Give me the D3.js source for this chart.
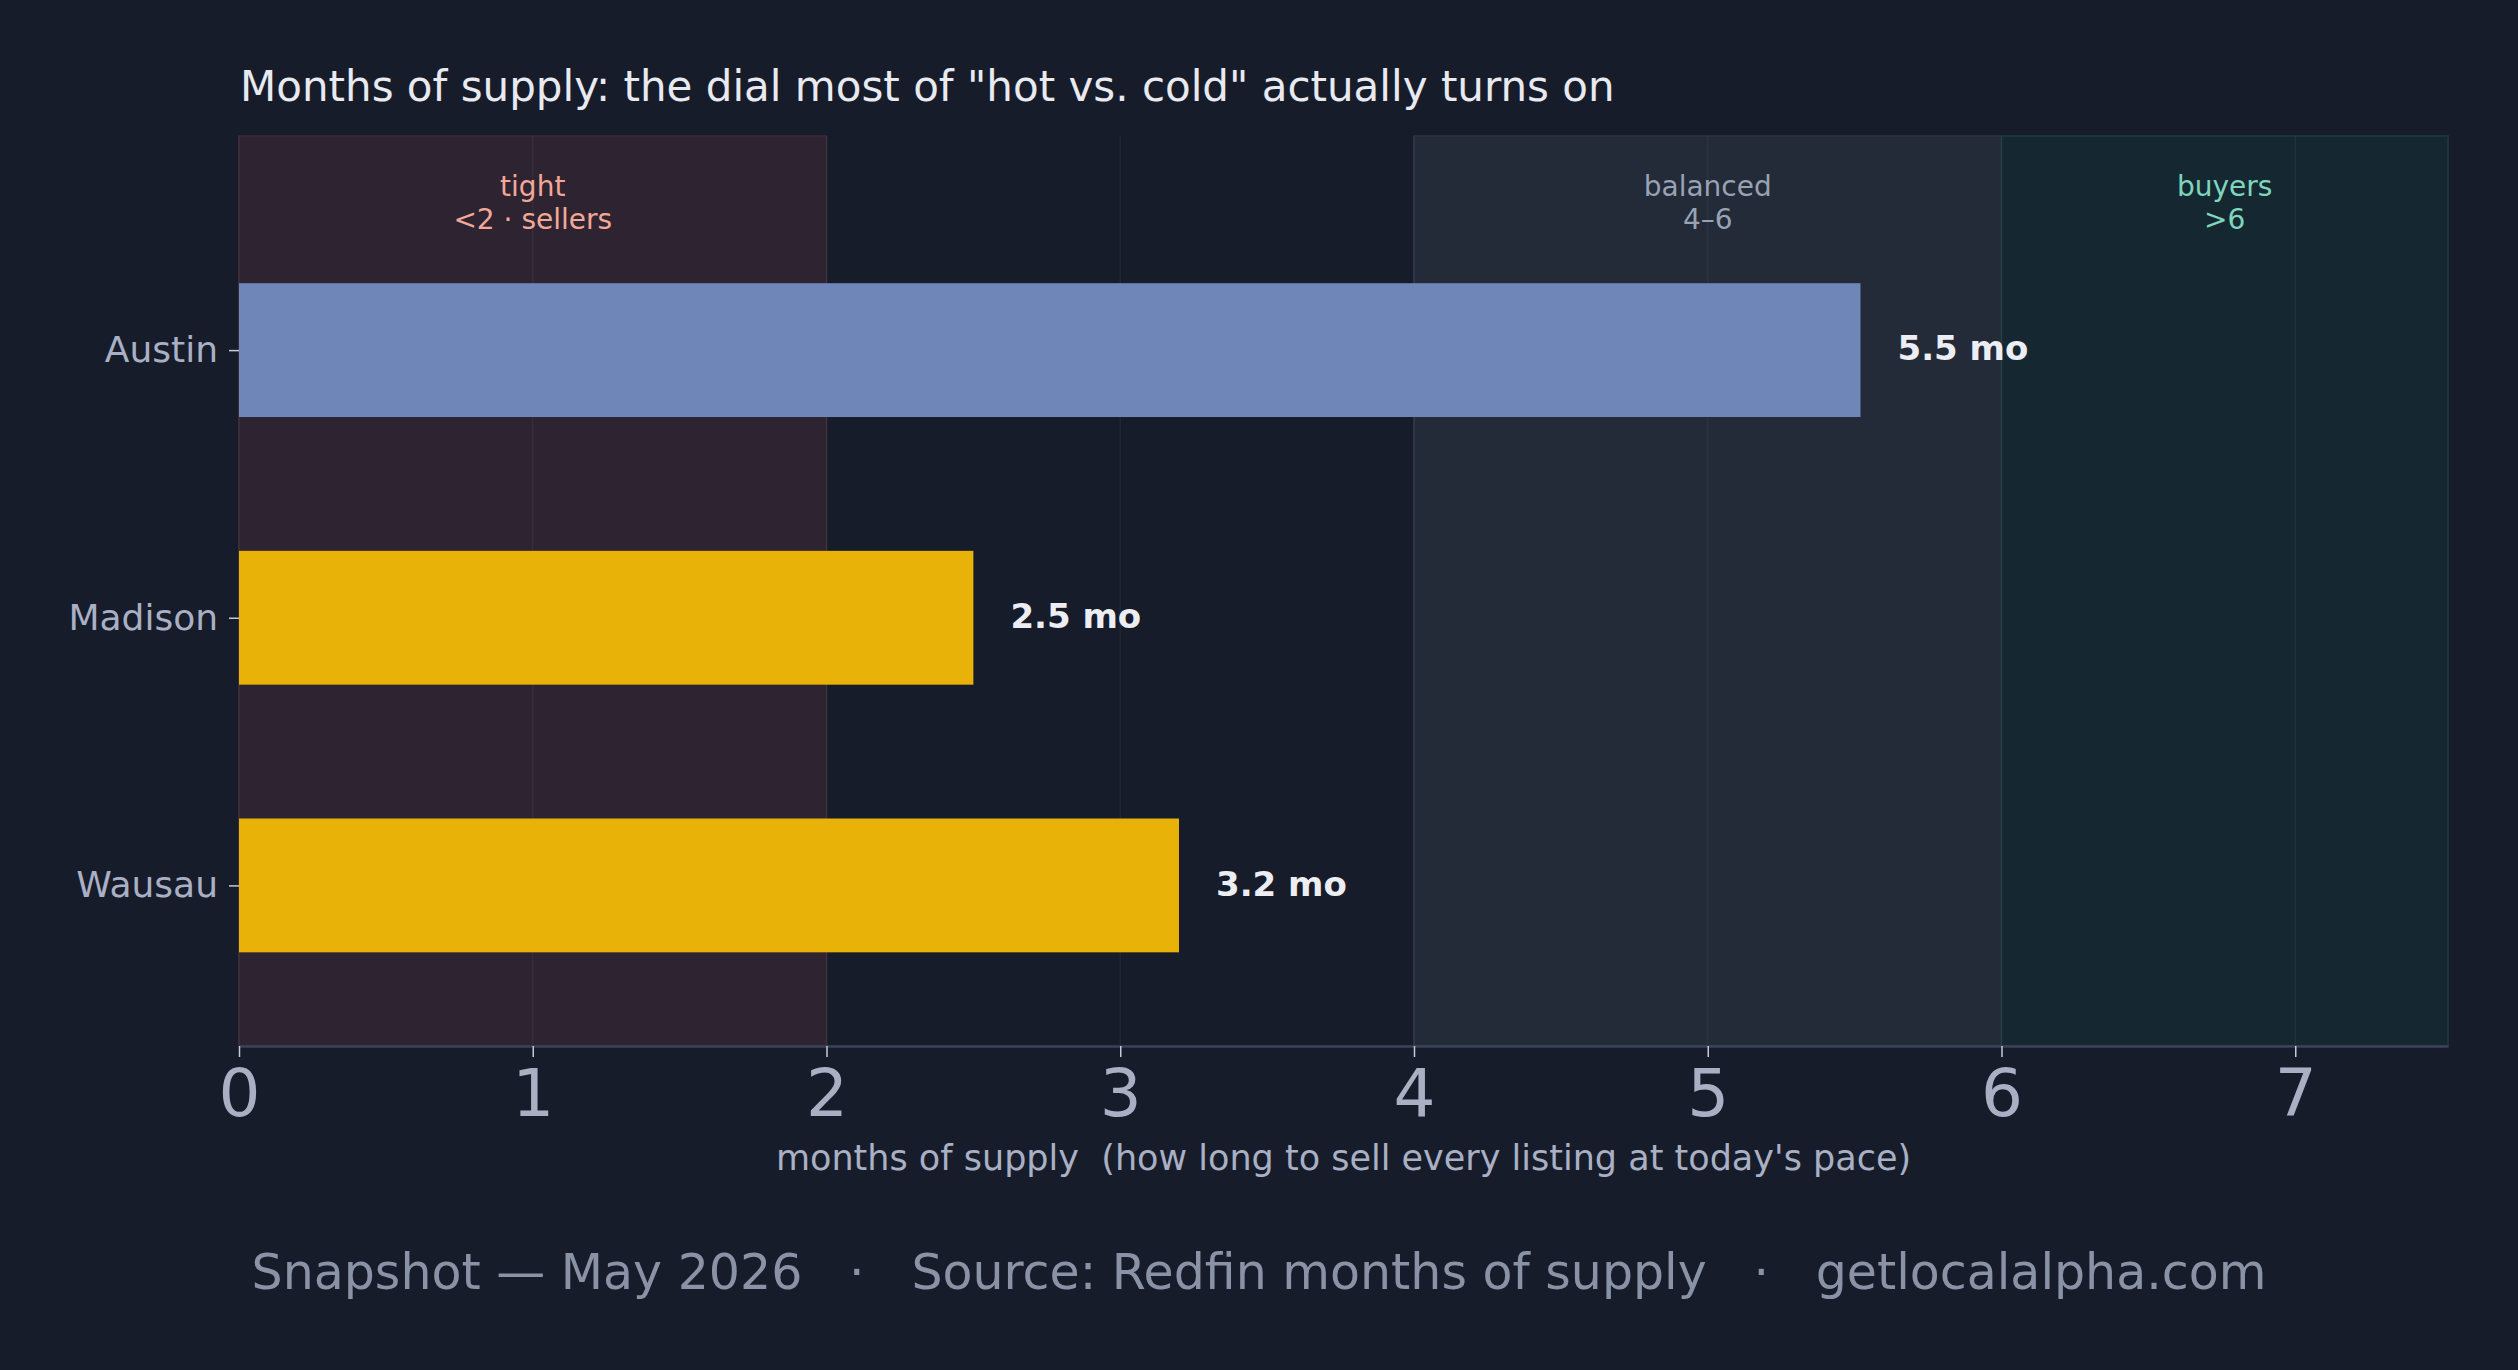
<!DOCTYPE html>
<html lang="en">
<head>
    <meta charset="UTF-8">
    <title>Months of supply</title>
    <style>
        body {
            margin: 0;
            padding: 0;
            background-color: #171c2b;
            font-family: "DejaVu Sans", sans-serif;
        }
    </style>
    <script src="https://d3js.org/d3.v7.min.js"></script>
</head>
<body>
    <svg id="chart" width="2518" height="1370"></svg>

    <script>
        // data
        const cities = ["Austin", "Madison", "Wausau"];
        const supply = [5.52, 2.5, 3.2];
        const barColors = ["#6f87b8", "#e8b209", "#e8b209"];
        const xTicks = [0, 1, 2, 3, 4, 5, 6, 7];

        // market zones: start, end, label lines
        const zoneStart = [0, 4, 6];
        const zoneEnd = [2, 6, 7.52];
        const zoneLines = [["tight", "<2 \u00b7 sellers"], ["balanced", "4\u20136"], ["buyers", ">6"]];
        const zoneFill = ["#2e2330", "#232a38", "#152831"];
        const zoneEdge = ["#3b2a36", "#2c3345", "#1d3a40"];
        const zoneText = ["#f2a899", "#99a2b4", "#7fd6bd"];

        const W = 2518;
        const plotL = 239, plotR = 2448, plotT = 136, plotB = 1046;

        const svg = d3.select("#chart");

        const x = d3.scaleLinear().domain([0, 7.52]).range([plotL, plotR]);
        // categories sit at 0,1,2 (top to bottom) with matplotlib-style margins
        const y = d3.scaleLinear().domain([-0.8, 2.6]).range([plotT, plotB]);
        const barH = y(0.25) - y(-0.25);

        // zones
        svg.append("g")
            .selectAll("rect")
            .data(zoneStart)
            .enter().append("rect")
            .attr("x", (d, i) => x(d))
            .attr("y", plotT)
            .attr("width", (d, i) => x(zoneEnd[i]) - x(d))
            .attr("height", plotB - plotT)
            .attr("fill", (d, i) => zoneFill[i])
            .attr("stroke", (d, i) => zoneEdge[i])
            .attr("stroke-width", 1.5);

        // vertical grid
        svg.append("g")
            .selectAll("line")
            .data(xTicks)
            .enter().append("line")
            .attr("x1", d => x(d))
            .attr("x2", d => x(d))
            .attr("y1", plotT)
            .attr("y2", plotB)
            .attr("stroke", "#ffffff")
            .attr("stroke-opacity", 0.045)
            .attr("stroke-width", 1.5);

        // zone labels
        const zl = svg.append("g")
            .selectAll("text")
            .data(zoneLines)
            .enter().append("text")
            .attr("text-anchor", "middle")
            .attr("font-size", 28)
            .attr("fill", (d, i) => zoneText[i]);
        zl.selectAll("tspan")
            .data((d, i) => d.map(t => ({ t, i })))
            .enter().append("tspan")
            .attr("x", d => x((zoneStart[d.i] + zoneEnd[d.i]) / 2))
            .attr("y", (d, j) => 196 + j * 33)
            .text(d => d.t);

        // bars
        svg.append("g")
            .selectAll("rect")
            .data(supply)
            .enter().append("rect")
            .attr("x", x(0))
            .attr("y", (d, i) => y(i) - barH / 2)
            .attr("width", d => x(d) - x(0))
            .attr("height", barH)
            .attr("fill", (d, i) => barColors[i]);

        // value labels
        svg.append("g")
            .selectAll("text")
            .data(supply)
            .enter().append("text")
            .attr("x", d => x(d) + 37)
            .attr("y", (d, i) => y(i))
            .attr("dy", "0.3em")
            .attr("font-size", 34)
            .attr("font-weight", "bold")
            .attr("fill", "#eceef4")
            .text(d => d.toFixed(1) + " mo");

        // x axis
        const xAxis = svg.append("g")
            .attr("transform", `translate(0,${plotB})`)
            .call(d3.axisBottom(x).tickValues(xTicks).tickSize(11).tickSizeOuter(0).tickPadding(12).tickFormat(d3.format("d")));
        xAxis.select(".domain").attr("stroke", "#3a4358").attr("stroke-width", 2.5);
        xAxis.selectAll(".tick line").attr("stroke", "#c5cad6").attr("stroke-width", 1.5);
        xAxis.selectAll(".tick text")
            .attr("fill", "#a9b0c4")
            .attr("font-size", 66)
            .attr("font-family", "DejaVu Sans");

        // y axis
        const yAxis = svg.append("g")
            .attr("transform", `translate(${plotL},0)`)
            .call(d3.axisLeft(y).tickValues([0, 1, 2]).tickSize(10).tickPadding(11).tickFormat(i => cities[i]));
        yAxis.select(".domain").remove();
        yAxis.selectAll(".tick line").attr("stroke", "#c5cad6").attr("stroke-width", 1.5);
        yAxis.selectAll(".tick text")
            .attr("fill", "#a9b0c4")
            .attr("font-size", 36)
            .attr("font-family", "DejaVu Sans");

        // title
        svg.append("text")
            .attr("x", plotL + 1)
            .attr("y", 101)
            .attr("font-size", 42)
            .attr("fill", "#e8eaf0")
            .text("Months of supply: the dial most of \"hot vs. cold\" actually turns on");

        // x label
        svg.append("text")
            .attr("x", (plotL + plotR) / 2)
            .attr("y", 1170)
            .attr("text-anchor", "middle")
            .attr("font-size", 35)
            .attr("fill", "#a9b0c4")
            .style("white-space", "pre")
            .text("months of supply  (how long to sell every listing at today's pace)");

        // footer
        svg.append("text")
            .attr("x", W / 2)
            .attr("y", 1289)
            .attr("text-anchor", "middle")
            .attr("font-size", 49)
            .attr("fill", "#8a92a6")
            .style("white-space", "pre")
            .text("Snapshot \u2014 May 2026   \u00b7   Source: Redfin months of supply   \u00b7   getlocalalpha.com");
    </script>
</body>
</html>
